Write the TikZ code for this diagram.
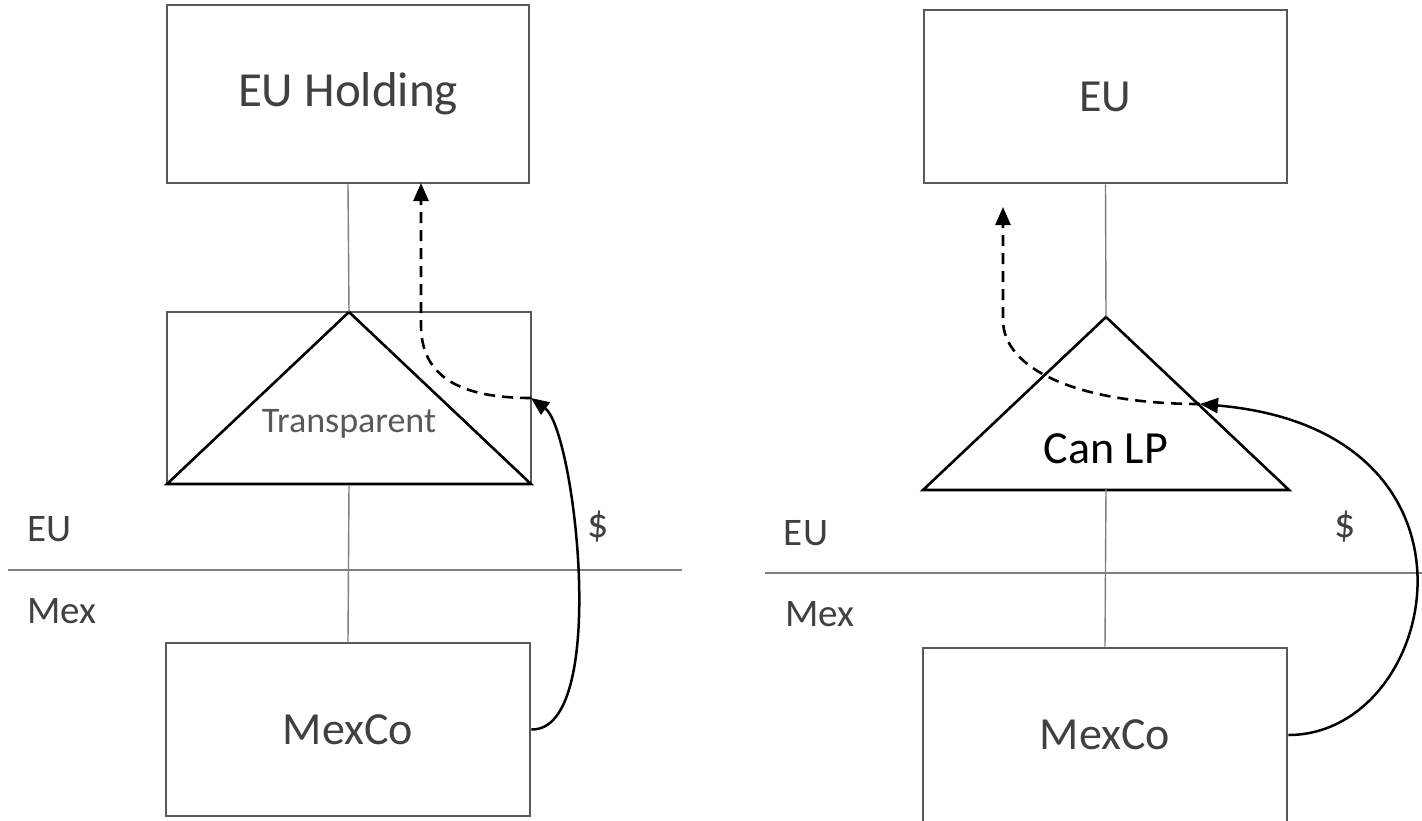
\documentclass[tikz,border=0pt]{standalone}
\usepackage{fontspec}
\setmainfont{Carlito}
\usetikzlibrary{arrows.meta}
\definecolor{boxgray}{HTML}{595959}
\definecolor{txtgray}{HTML}{404040}
\definecolor{linegray}{HTML}{7F7F7F}
\begin{document}
\begin{tikzpicture}[x=1pt,y=-1pt,
  entity/.style={draw=boxgray, line width=2.6pt, inner sep=0pt, text=txtgray,
    font=\fontsize{46}{55}\selectfont},
  tri/.style={draw=black, line width=2.6pt, line join=miter},
  conn/.style={draw=linegray, line width=1.4pt},
  divider/.style={draw=linegray, line width=1.4pt},
  lbl/.style={text=txtgray, inner sep=0pt, font=\fontsize{39}{46}\selectfont},
  flow/.style={draw=black, line width=2.5pt, -{Triangle[length=18pt,width=15pt]}},
  dflow/.style={draw=black, line width=2.6pt, dash pattern=on 11pt off 7pt,
    -{Triangle[length=18pt,width=15pt]}}
]
\clip (0,0) rectangle (1422,820);
\fill[white] (0,0) rectangle (1422,820);

% ---------- left panel ----------
\node[entity, minimum width=362pt, minimum height=178pt, font=\fontsize{49}{58}\selectfont] (euh) at (348,94) {EU Holding};
\node[entity, minimum width=364pt, minimum height=172pt] (tr) at (349,398) {};
\node[entity, minimum width=364pt, minimum height=173pt] (mex1) at (348,729.5) {MexCo};
\coordinate (t1a) at (349,312);
\coordinate (t1l) at (167,484);
\coordinate (t1r) at (531,484);
\draw[tri] (t1a) -- (t1r) -- (t1l) -- cycle;
\node[inner sep=0pt, text=boxgray, font=\fontsize{36}{43}\selectfont] (transp) at (349,424) {Transparent};
\draw[conn] (euh.south) -- (t1a);
\draw[conn] (tr.south) -- (mex1.north);
\coordinate (d1l) at (8,570);
\coordinate (d1r) at (682,570);
\draw[divider] (d1l) -- (d1r);
\node[lbl] (eu1) at (50,529) {EU};
\node[lbl] (mx1) at (62,611) {Mex};
\node[lbl, font=\fontsize{42}{50}\selectfont] (usd1) at (598,527) {\$};
\coordinate (p1) at (531,398);
\coordinate (k1) at (421,325);
\coordinate (h1) at (421,183);
\draw[flow] (mex1.east) .. controls (610,731) and (575,430) .. (p1);
\draw[dflow] (p1) .. controls (450,398) and (421,370) .. (k1) -- (h1);

% ---------- right panel ----------
\node[entity, minimum width=363pt, minimum height=173pt] (eu) at (1105.5,96.5) {EU};
\node[entity, minimum width=364pt, minimum height=174pt] (mex2) at (1105,735) {MexCo};
\coordinate (t2a) at (1106,317);
\coordinate (t2l) at (923,490);
\coordinate (t2r) at (1289,490);
\coordinate (t2b) at (1106,488);
\draw[tri] (t2a) -- (t2r) -- (t2l) -- cycle;
\node[inner sep=0pt, text=black, font=\fontsize{46}{55}\selectfont] (canlp) at (1106,449) {Can LP};
\draw[conn] (eu.south) -- (t2a);
\draw[conn] (t2b) -- (mex2.north);
\coordinate (d2l) at (765,573);
\coordinate (d2r) at (1422,573);
\draw[divider] (d2l) -- (d2r);
\node[lbl] (eu2) at (806,533) {EU};
\node[lbl] (mx2) at (820,614) {Mex};
\node[lbl, font=\fontsize{42}{50}\selectfont] (usd2) at (1345,527) {\$};
\coordinate (p2) at (1200,404);
\coordinate (k2) at (1003,320);
\coordinate (h2) at (1003,207);
\draw[flow] (mex2.east) .. controls (1440,735) and (1505,430) .. (p2);
\draw[dflow] (p2) .. controls (1080,404) and (1003,370) .. (k2) -- (h2);
\end{tikzpicture}
\end{document}
